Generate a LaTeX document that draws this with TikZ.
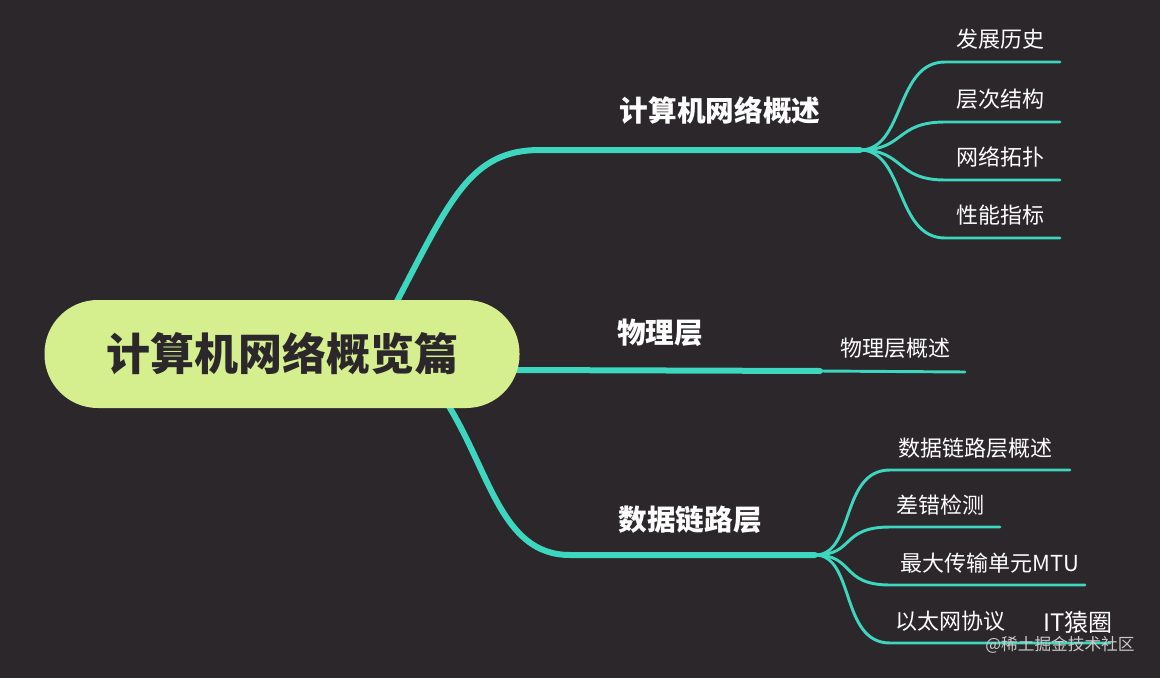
\documentclass[tikz,border=0pt]{standalone}
\usepackage{fontspec}
\newfontfamily\cjk{Noto Sans CJK SC}
\definecolor{bg}{HTML}{2B272B}
\definecolor{teal}{HTML}{3DD6BE}
\definecolor{rootc}{HTML}{D5EF8F}
\begin{document}
\begin{tikzpicture}[x=0.75pt,y=-0.75pt,
  br/.style={teal,line width=4.5pt,line cap=round},
  ch/.style={teal,line width=2.2pt,line cap=round},
  btxt/.style={text=white,font=\cjk\bfseries\fontsize{21.5}{24}\selectfont},
  ctxt/.style={text=white,font=\cjk\fontsize{16.5}{19}\selectfont}]
\fill[bg] (0,0) rectangle (1160,678);
\useasboundingbox (0,0) rectangle (1160,678);
% branch 1
\coordinate (h1) at (860,150);
\draw[br] (395,305) .. controls (450,200) and (470,150) .. (540,150) -- (h1);
\node[btxt] (b1) at (720,110) {计算机网络概述};
\foreach \y/\t/\n in {62/发展历史/a,122/层次结构/b,180/网络拓扑/c,238/性能指标/d}{
  \coordinate (e\n) at (1060,\y);
  \draw[ch] (h1) .. controls (905,150) and (895,\y) .. (945,\y) -- (e\n);
  \node[ctxt] (t\n) at (1000,\y-23) {\t};
}
% branch 2
\coordinate (e2) at (965,372);
\draw[br] (515,370) -- (820,371);
\draw[ch] (820,371) -- (e2);
\node[btxt] (b2) at (660,333) {物理层};
\node[ctxt] (t2) at (895,348) {物理层概述};
% branch 3
\coordinate (h3) at (815,555);
\draw[br] (445,400) .. controls (490,470) and (500,555) .. (570,555) -- (h3);
\node[btxt] (b3) at (690,520) {数据链路层};
\foreach \y/\t/\x/\xe/\n in {470/数据链路层概述/975/1070/a,527/差错检测/940/1000/b,585/最大传输单元MTU/990/1085/c,643/以太网协议/950/1110/d}{
  \coordinate (f\n) at (\xe,\y);
  \draw[ch] (h3) .. controls (855,555) and (840,\y) .. (890,\y) -- (f\n);
  \node[ctxt] (s\n) at (\x,\y-22) {\t};
}
% root
\node[fill=rootc,rounded corners=40pt,minimum width=475*0.75pt,minimum height=108*0.75pt,
  font=\cjk\bfseries\fontsize{33}{38}\selectfont,text=bg] (root) at (282,354) {计算机网络概览篇};
% watermark
\node[text=white,font=\cjk\fontsize{18}{20}\selectfont] (w1) at (1078,622) {IT猿圈};
\node[text=white!75!bg,font=\cjk\fontsize{12.5}{14}\selectfont] (w2) at (1060,645) {@稀土掘金技术社区};
\end{tikzpicture}
\end{document}
